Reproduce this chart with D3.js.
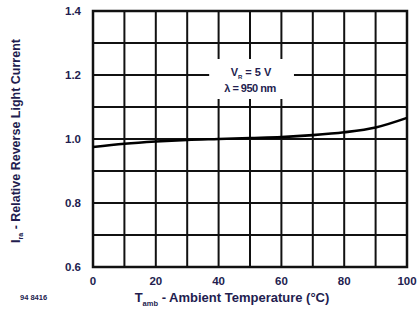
<!DOCTYPE html>
<html><head><meta charset="utf-8">
<script src="https://cdn.jsdelivr.net/npm/d3@7"></script>
<style>body{margin:0;background:#fff}svg{display:block}</style>
</head><body>
<svg id="c" width="417" height="320"></svg>
<script>
const temps = [0, 10, 20, 30, 40, 50, 60, 70, 80, 90, 100];
const current = [0.975, 0.985, 0.992, 0.997, 1.0, 1.003, 1.006, 1.012, 1.021, 1.036, 1.066];
const xTicks = [0, 20, 40, 60, 80, 100];
const yTicks = [0.6, 0.8, 1.0, 1.2, 1.4];
const xGrid = [0,10,20,30,40,50,60,70,80,90,100];
const yGrid = [0.6,0.7,0.8,0.9,1.0,1.1,1.2,1.3,1.4];
const noteLines = ["V_R = 5 V", "λ = 950 nm"];

const svg = d3.select("#c");
const ink = "#231d4f";
const font = "Liberation Sans, Arial, sans-serif";
const x = d3.scaleLinear().domain([0,100]).range([93,407]);
const y = d3.scaleLinear().domain([0.6,1.4]).range([267,11]);

// grid
svg.append("g").selectAll("line").data(xGrid).join("line")
  .attr("x1", d=>x(d)).attr("x2", d=>x(d)).attr("y1", y(0.6)).attr("y2", y(1.4))
  .attr("stroke","#111").attr("stroke-width",2);
svg.append("g").selectAll("line").data(yGrid).join("line")
  .attr("x1", x(0)).attr("x2", x(100)).attr("y1", d=>y(d)).attr("y2", d=>y(d))
  .attr("stroke","#111").attr("stroke-width",2);
// border
svg.append("rect").attr("x",x(0)).attr("y",y(1.4)).attr("width",x(100)-x(0)).attr("height",y(0.6)-y(1.4))
  .attr("fill","none").attr("stroke","#111").attr("stroke-width",2.5);

// note box (white)
svg.append("rect").attr("x",x(37)).attr("y",y(1.25)).attr("width",x(64)-x(37)).attr("height",y(1.125)-y(1.25))
  .attr("fill","#fff");
const note = svg.append("g").attr("font-family",font).attr("font-weight","bold")
  .attr("fill",ink).attr("text-anchor","middle");
const t1 = note.append("text").attr("x",x(50)+1).attr("y",y(1.2)+1).attr("font-size",11);
t1.append("tspan").text("V");
t1.append("tspan").text("R").attr("font-size",6).attr("dy",3);
t1.append("tspan").text(" = 5 V").attr("dy",-3);
note.append("text").attr("x",x(50)).attr("y",y(1.15)+1).attr("font-size",11).attr("letter-spacing",-0.5).text(noteLines[1]);

// curve
const line = d3.line().x((d,i)=>x(temps[i])).y(d=>y(d)).curve(d3.curveMonotoneX);
svg.append("path").datum(current).attr("d",line).attr("fill","none").attr("stroke","#000").attr("stroke-width",2.6);

// tick labels
const lab = svg.append("g").attr("font-family",font).attr("font-weight","bold").attr("fill",ink).attr("font-size",11.5);
lab.selectAll(".yt").data(yTicks).join("text").attr("class","yt")
  .attr("x",81).attr("y",d=>y(d)+4).attr("text-anchor","end").text(d=>d.toFixed(1));
lab.selectAll(".xt").data(xTicks).join("text").attr("class","xt")
  .attr("x",d=>x(d)).attr("y",285).attr("text-anchor","middle").text(d=>d);

// x title
const xt = svg.append("text").attr("x",232).attr("y",302).attr("text-anchor","middle")
  .attr("font-family",font).attr("font-weight","bold").attr("fill",ink).attr("font-size",13);
xt.append("tspan").text("T");
xt.append("tspan").text("amb").attr("font-size",7.5).attr("dy",4);
xt.append("tspan").text(" - Ambient Temperature (°C)").attr("dy",-4);

// y title
const yt = svg.append("text").attr("transform","translate(20,141) rotate(-90)").attr("text-anchor","middle")
  .attr("font-family",font).attr("font-weight","bold").attr("fill",ink).attr("font-size",12.5);
yt.append("tspan").text("I");
yt.append("tspan").text("ra").attr("font-size",7).attr("dy",3);
yt.append("tspan").text(" - Relative Reverse Light Current").attr("dy",-3);

// figure id
svg.append("text").attr("x",20).attr("y",300).attr("font-family",font)
  .attr("font-weight","bold").attr("font-size",7.5).attr("fill",ink).text("94 8416");
</script>
</body></html>
